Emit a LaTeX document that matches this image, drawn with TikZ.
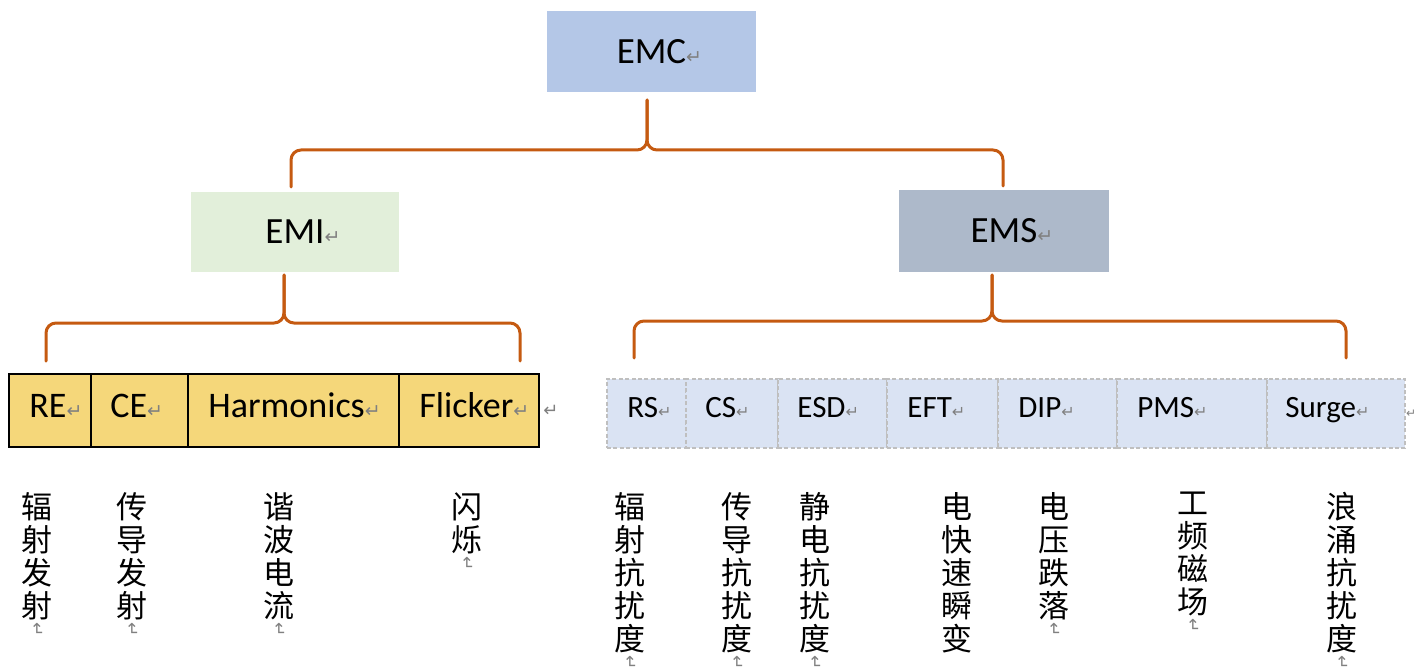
\documentclass[tikz,border=0pt]{standalone}
\usepackage{fontspec}
\setmainfont{Carlito}
\newfontfamily\cjk{Noto Sans CJK SC}
\newfontfamily\dvs{DejaVu Sans}
\usepackage{graphicx}
\usetikzlibrary{calc}
\definecolor{bracec}{RGB}{197,90,17}
\definecolor{emcfill}{RGB}{180,199,231}
\definecolor{emifill}{RGB}{226,239,218}
\definecolor{emsfill}{RGB}{173,185,202}
\definecolor{goldfill}{RGB}{245,215,122}
\definecolor{bluefill}{RGB}{218,227,243}
\definecolor{dashgray}{RGB}{191,191,191}
\definecolor{markgray}{RGB}{128,128,128}
\newcommand\retmk[1][9.5pt]{{\dvs\fontsize{#1}{#1}\selectfont\color{markgray}↵}}
\newcommand\vretmk{{\dvs\fontsize{8.5pt}{8.5pt}\selectfont\color{markgray}\rotatebox{-90}{↵}}}
\begin{document}
\begin{tikzpicture}[x=0.5pt,y=-0.5pt,
  brace/.style={draw=bracec, line width=1.5pt, rounded corners=5pt, line cap=round},
  topbox/.style={inner sep=0pt, outer sep=0pt, font=\fontsize{18.5pt}{20pt}\selectfont},
  cellL/.style={draw=black, line width=0.8pt, fill=goldfill, anchor=north west, inner sep=0pt, outer sep=0pt, minimum height=36.5pt},
  cellR/.style={draw=dashgray, line width=0.6pt, dash pattern=on 2pt off 1.2pt, fill=bluefill, anchor=north west, inner sep=0pt, outer sep=0pt, minimum height=34.5pt},
  lblL/.style={anchor=base west, inner sep=0pt, font=\fontsize{18pt}{20pt}\selectfont},
  lblR/.style={anchor=base west, inner sep=0pt, font=\fontsize{15.5pt}{17pt}\selectfont},
  cjkcol/.style={anchor=north, inner sep=0pt, align=center, font=\cjk\fontsize{15.5pt}{16.5pt}\selectfont},
  rowmk/.style={inner sep=0pt, anchor=base west}
]
\useasboundingbox (0,0) rectangle (1416,668);

% top level boxes
\node[topbox, fill=emcfill, minimum width=104.5pt, minimum height=40.5pt] (emc) at (651.5,51.5) {EMC\rlap{\retmk}};
\node[topbox, fill=emifill, minimum width=104pt, minimum height=40pt] (emi) at (295,232) {EMI\rlap{\retmk}};
\node[topbox, fill=emsfill, minimum width=105pt, minimum height=41pt] (ems) at (1004,231) {EMS\rlap{\retmk}};

% left table (EMI)
\node[cellL, minimum width=41pt] (re) at (9,374) {};
\node[cellL, minimum width=48.5pt] (ce) at (re.north east) {};
\node[cellL, minimum width=105.5pt] (harm) at (ce.north east) {};
\node[cellL, minimum width=70pt] (flick) at (harm.north east) {};
\node[lblL] (tre) at ([xshift=10pt,yshift=-3.25pt]re.west) {RE\retmk};
\node[lblL] (tce) at ([xshift=9.5pt,yshift=-3.25pt]ce.west) {CE\retmk};
\node[lblL] (tharm) at ([xshift=10pt,yshift=-3.25pt]harm.west) {Harmonics\retmk};
\node[lblL] (tflick) at ([xshift=10pt,yshift=-3.25pt]flick.west) {Flicker\retmk};
\node[rowmk] (mkL) at ([xshift=2pt,yshift=-3pt]flick.east) {\retmk[9pt]};

% right table (EMS)
\node[cellR, minimum width=39.5pt] (rs) at (607,379) {};
\node[cellR, minimum width=46pt] (cs) at (rs.north east) {};
\node[cellR, minimum width=54.5pt] (esd) at (cs.north east) {};
\node[cellR, minimum width=55.5pt] (eft) at (esd.north east) {};
\node[cellR, minimum width=59.5pt] (dip) at (eft.north east) {};
\node[cellR, minimum width=75pt] (pms) at (dip.north east) {};
\node[cellR, minimum width=69pt] (surge) at (pms.north east) {};
\node[lblR] (trs) at ([xshift=10pt,yshift=-1.75pt]rs.west) {RS\retmk[8pt]};
\node[lblR] (tcs) at ([xshift=9.5pt,yshift=-1.75pt]cs.west) {CS\retmk[8pt]};
\node[lblR] (tesd) at ([xshift=9.5pt,yshift=-1.75pt]esd.west) {ESD\retmk[8pt]};
\node[lblR] (teft) at ([xshift=10pt,yshift=-1.75pt]eft.west) {EFT\retmk[8pt]};
\node[lblR] (tdip) at ([xshift=10pt,yshift=-1.75pt]dip.west) {DIP\retmk[8pt]};
\node[lblR] (tpms) at ([xshift=10pt,yshift=-1.75pt]pms.west) {PMS\retmk[8pt]};
\node[lblR] (tsurge) at ([xshift=9pt,yshift=-1.75pt]surge.west) {Surge\retmk[8pt]};
\node[rowmk] (mkR) at ([xshift=0.4pt,yshift=-2pt]surge.east) {\retmk[6pt]};

% braces
\coordinate (s1) at ([xshift=-2.25pt,yshift=-4pt]emc.south);
\coordinate (c1) at (647,150);
\coordinate (e1l) at ([xshift=-2pt,yshift=2.5pt]emi.north);
\coordinate (e1r) at ([xshift=-0.5pt,yshift=2pt]ems.north);
\draw[brace] (s1) -- (c1) -- (e1l |- c1) -- (e1l);
\draw[brace] (s1) -- (c1) -- (e1r |- c1) -- (e1r);

\coordinate (s2) at ([xshift=-5.5pt,yshift=-1.5pt]emi.south);
\coordinate (c2) at (284,323);
\coordinate (e2l) at ([xshift=-2pt,yshift=6.5pt]re.north);
\coordinate (e2r) at ([xshift=-9.5pt,yshift=6.5pt]flick.north east);
\draw[brace] (s2) -- (c2) -- (e2l |- c2) -- (e2l);
\draw[brace] (s2) -- (c2) -- (e2r |- c2) -- (e2r);

\coordinate (s3) at ([xshift=-6pt,yshift=-1.5pt]ems.south);
\coordinate (c3) at (992,321);
\coordinate (e3l) at ([xshift=-6.25pt,yshift=10.5pt]rs.north);
\coordinate (e3r) at ([xshift=5pt,yshift=10.5pt]surge.north);
\draw[brace] (s3) -- (c3) -- (e3l |- c3) -- (e3l);
\draw[brace] (s3) -- (c3) -- (e3r |- c3) -- (e3r);

% vertical Chinese descriptions
\node[cjkcol] (z1) at (37,492) {辐\\射\\发\\射\\[-14pt]\vretmk};
\node[cjkcol] (z2) at (132,492) {传\\导\\发\\射\\[-14pt]\vretmk};
\node[cjkcol] (z3) at (279,492) {谐\\波\\电\\流\\[-14pt]\vretmk};
\node[cjkcol] (z4) at (467,492) {闪\\烁\\[-14pt]\vretmk};
\node[cjkcol] (z5) at (630,492) {辐\\射\\抗\\扰\\度\\[-14pt]\vretmk};
\node[cjkcol] (z6) at (737,492) {传\\导\\抗\\扰\\度\\[-14pt]\vretmk};
\node[cjkcol] (z7) at (815,492) {静\\电\\抗\\扰\\度\\[-14pt]\vretmk};
\node[cjkcol] (z8) at (957,492) {电\\快\\速\\瞬\\变};
\node[cjkcol] (z9) at (1054,492) {电\\压\\跌\\落\\[-14pt]\vretmk};
\node[cjkcol] (z10) at (1193,492) {工\\频\\磁\\场\\[-14pt]\vretmk};
\node[cjkcol] (z11) at (1342,492) {浪\\涌\\抗\\扰\\度\\[-14pt]\vretmk};
\end{tikzpicture}
\end{document}
